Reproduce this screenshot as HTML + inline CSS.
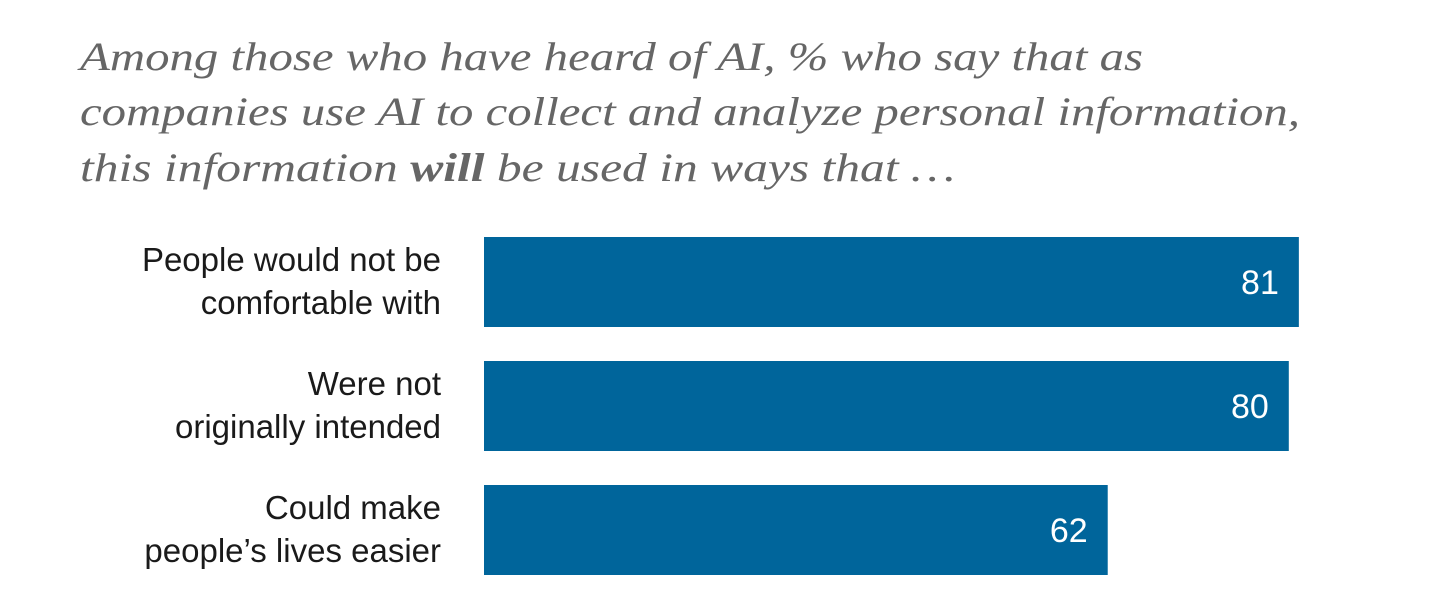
<!DOCTYPE html>
<html><head><meta charset="utf-8"><style>
html,body{margin:0;padding:0;background:#fff;}
svg{display:block;}
</style></head><body>
<svg id="chart" width="1439" height="605" xmlns="http://www.w3.org/2000/svg">
<g font-family="Liberation Serif, serif" font-style="italic" font-size="40" fill="#666">
<text x="80" y="70" textLength="1063" lengthAdjust="spacingAndGlyphs">Among those who have heard of AI, % who say that as</text>
<text x="80" y="125" textLength="1220" lengthAdjust="spacingAndGlyphs">companies use AI to collect and analyze personal information,</text>
<text x="80" y="181" textLength="875" lengthAdjust="spacingAndGlyphs">this information <tspan font-weight="bold">will</tspan> be used in ways that …</text>
</g>
<g id="bars"></g>
</svg>
<script>
const categories = [["People would not be","comfortable with"],["Were not","originally intended"],["Could make","people’s lives easier"]];
const values = [81, 80, 62];
const valueLabels = ["81","80","62"];
const x0 = 484, pxPerUnit = 10.06, yTop = 237, pitch = 124, barH = 90;
const xScale = v => x0 + v * pxPerUnit;
const ns = "http://www.w3.org/2000/svg";
const g = document.getElementById('bars');
values.forEach((v, i) => {
  const y = yTop + i * pitch;
  const r = document.createElementNS(ns, 'rect');
  
  
  r.setAttribute('x', x0); r.setAttribute('y', y);
  r.setAttribute('width', xScale(v) - x0); r.setAttribute('height', barH);
  r.setAttribute('fill', '#00659b');
  g.appendChild(r);
  const t = document.createElementNS(ns, 'text');
  
  
  t.setAttribute('x', xScale(v) - 20); t.setAttribute('y', y + barH/2 + 12);
  t.setAttribute('text-anchor', 'end'); t.setAttribute('fill', '#fff');
  t.setAttribute('font-family', 'Liberation Sans, sans-serif'); t.setAttribute('font-size', '34');
  t.textContent = valueLabels[i];
  g.appendChild(t);
  categories[i].forEach((line, j) => {
    const c = document.createElementNS(ns, 'text');
    
    
    c.setAttribute('x', 441); c.setAttribute('y', y + 34 + j * 43);
    c.setAttribute('text-anchor', 'end'); c.setAttribute('fill', '#1a1a1a');
    c.setAttribute('font-family', 'Liberation Sans, sans-serif'); c.setAttribute('font-size', '33');
    c.textContent = line;
    g.appendChild(c);
  });
});
</script>
</body></html>
